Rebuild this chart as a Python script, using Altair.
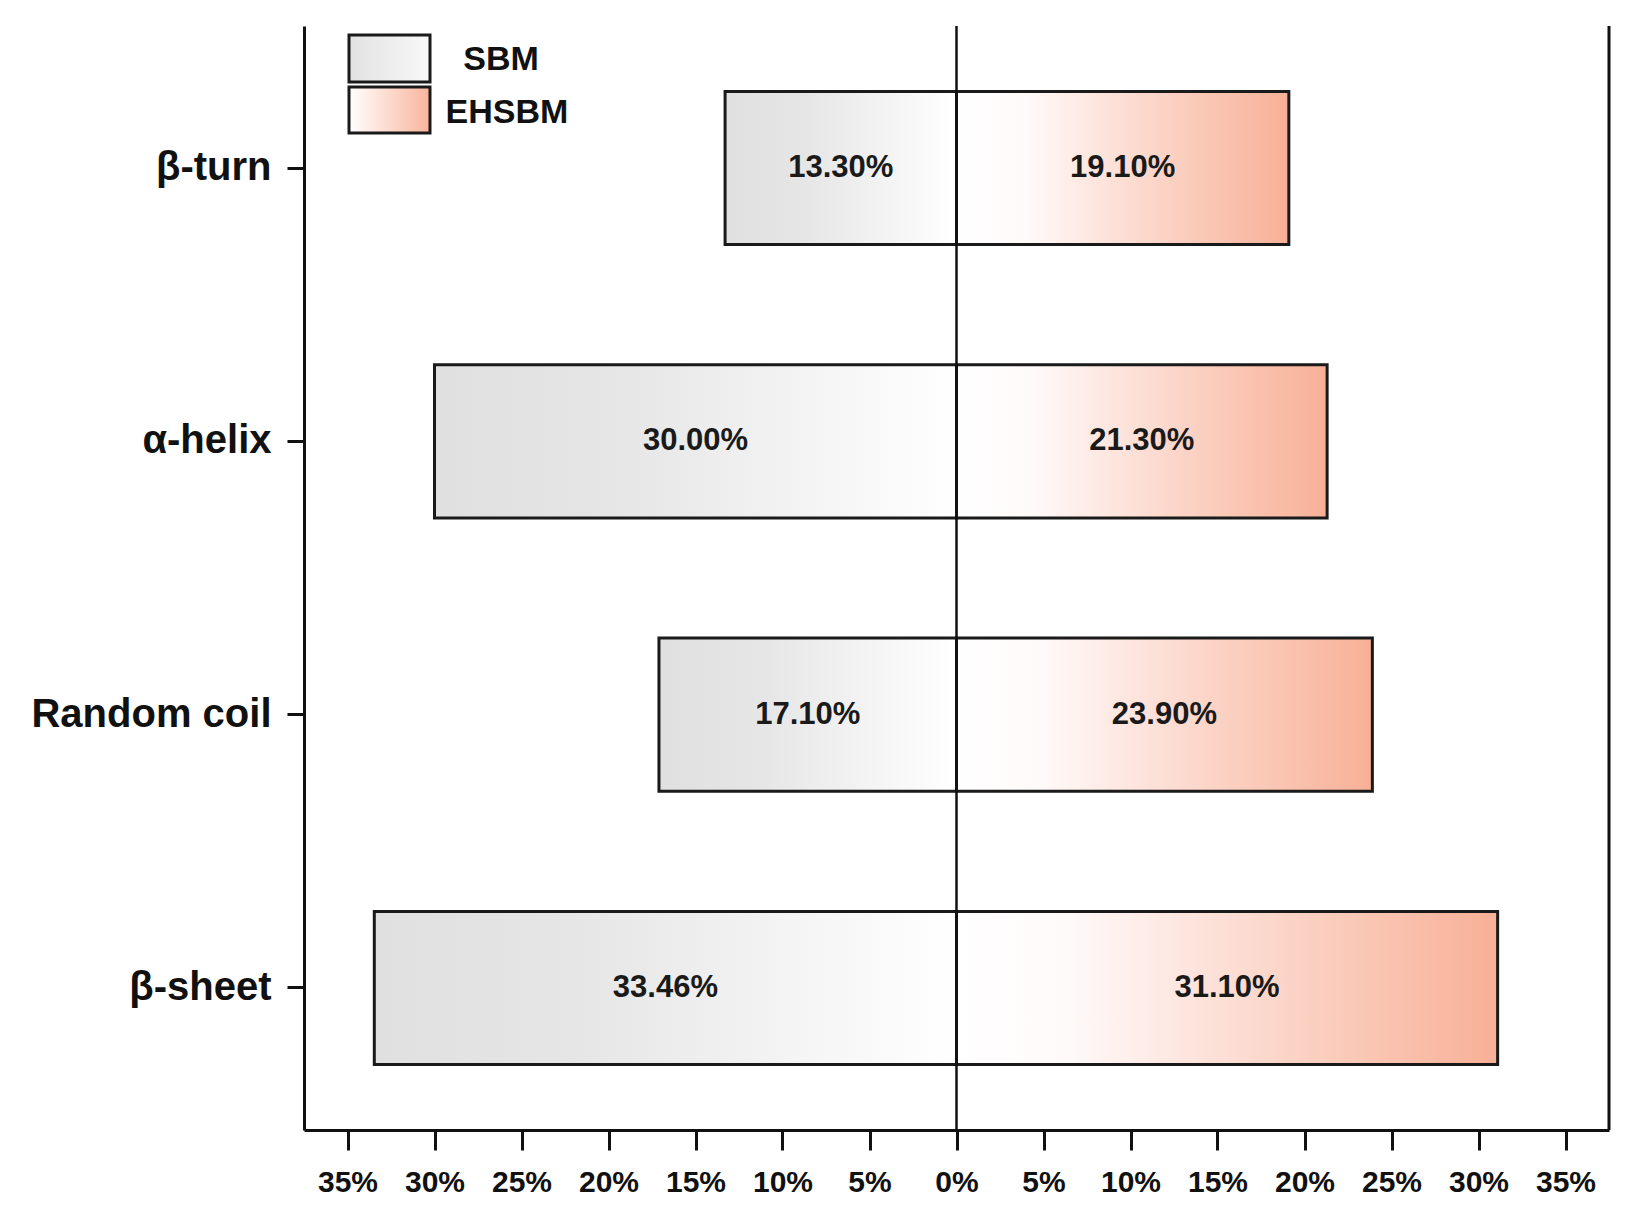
import altair as alt
import pandas as pd

categories = ["β-turn", "α-helix", "Random coil", "β-sheet"]
sbm_values = [13.30, 30.00, 17.10, 33.46]
ehsbm_values = [19.10, 21.30, 23.90, 31.10]
tick_values = [-35, -30, -25, -20, -15, -10, -5, 0, 5, 10, 15, 20, 25, 30, 35]

FONT = "Liberation Sans"
W, H = 1305, 1104

sbm = pd.DataFrame({
    "cat": categories,
    "lo": [-v for v in sbm_values],
    "hi": [0.0] * len(categories),
    "mid": [-v / 2 for v in sbm_values],
    "label": [f"{v:.2f}%" for v in sbm_values],
})
ehs = pd.DataFrame({
    "cat": categories,
    "lo": [0.0] * len(categories),
    "hi": ehsbm_values,
    "mid": [v / 2 for v in ehsbm_values],
    "label": [f"{v:.2f}%" for v in ehsbm_values],
})

gray_grad = {
    "gradient": "linear", "x1": 0, "x2": 1, "y1": 0, "y2": 0,
    "stops": [
        {"offset": 0, "color": "#e0e0e0"},
        {"offset": 0.35, "color": "#e6e6e6"},
        {"offset": 1, "color": "#ffffff"},
    ],
}
red_grad = {
    "gradient": "linear", "x1": 0, "x2": 1, "y1": 0, "y2": 0,
    "stops": [
        {"offset": 0, "color": "#ffffff"},
        {"offset": 0.2, "color": "#fffafa"},
        {"offset": 1, "color": "#f8b096"},
    ],
}

yscale = alt.Scale(paddingInner=0.44, paddingOuter=0.24)
xscale = alt.Scale(domain=[-37.5, 37.5], nice=False, zero=False)

bars_sbm = alt.Chart(sbm).mark_bar(fill=gray_grad, stroke="#1a1a1a", strokeWidth=3).encode(
    y=alt.Y("cat:N", sort=categories, scale=yscale,
            axis=alt.Axis(title=None, labelFontSize=40, labelFont=FONT, labelFontWeight="bold",
                          labelColor="#111111", tickSize=17, tickWidth=3, tickColor="#111111",
                          domainColor="#111111", domainWidth=3, labelPadding=16, grid=False,
                          labelLimit=0)),
    x=alt.X("lo:Q", scale=xscale,
            axis=alt.Axis(title=None, values=tick_values, labelExpr="abs(datum.value) + '%'",
                          labelFontSize=30, labelFont=FONT, labelFontWeight="bold",
                          labelColor="#111111", tickSize=20, tickWidth=3, tickColor="#111111",
                          domainColor="#111111", domainWidth=3, labelPadding=17, grid=False,
                          labelFlush=False, labelOverlap=False)),
    x2="hi:Q",
)

bars_ehs = alt.Chart(ehs).mark_bar(fill=red_grad, stroke="#1a1a1a", strokeWidth=3).encode(
    y=alt.Y("cat:N", sort=categories, title=None),
    x=alt.X("lo:Q", title=None),
    x2="hi:Q",
)

text_style = dict(font=FONT, fontSize=31, fontWeight="bold", color="#1a1a1a",
                  align="center", baseline="middle")
txt_sbm = alt.Chart(sbm).mark_text(**text_style).encode(
    y=alt.Y("cat:N", sort=categories, title=None),
    x=alt.X("mid:Q", title=None),
    text="label:N",
)
txt_ehs = alt.Chart(ehs).mark_text(**text_style).encode(
    y=alt.Y("cat:N", sort=categories, title=None),
    x=alt.X("mid:Q", title=None),
    text="label:N",
)

one = alt.Data(values=[{"k": 1}])
center_rule = alt.Chart(one).mark_rule(color="#111111", strokeWidth=2.5).encode(
    x=alt.datum(0), y=alt.value(0), y2=alt.value(H)
)
right_rule = alt.Chart(one).mark_rule(color="#111111", strokeWidth=3).encode(
    x=alt.value(W), y=alt.value(0), y2=alt.value(H)
)

leg_gray = alt.Chart(one).mark_rect(fill={
    "gradient": "linear", "x1": 0, "x2": 1, "y1": 0, "y2": 0,
    "stops": [{"offset": 0, "color": "#e2e2e2"}, {"offset": 1, "color": "#f8f8f8"}]},
    stroke="#1a1a1a", strokeWidth=3).encode(
    x=alt.value(45), x2=alt.value(126), y=alt.value(9), y2=alt.value(56)
)
leg_red = alt.Chart(one).mark_rect(fill={
    "gradient": "linear", "x1": 0, "x2": 1, "y1": 0, "y2": 0,
    "stops": [{"offset": 0, "color": "#ffffff"}, {"offset": 1, "color": "#f9b49c"}]},
    stroke="#1a1a1a", strokeWidth=3).encode(
    x=alt.value(45), x2=alt.value(126), y=alt.value(61), y2=alt.value(107)
)
leg_style = dict(font=FONT, fontSize=34, fontWeight="bold", color="#111111",
                 align="center", baseline="middle")
leg_t1 = alt.Chart(one).mark_text(**leg_style, text="SBM").encode(
    x=alt.value(197), y=alt.value(34)
)
leg_t2 = alt.Chart(one).mark_text(**leg_style, text="EHSBM").encode(
    x=alt.value(203), y=alt.value(87)
)

chart = alt.layer(
    bars_sbm, bars_ehs, center_rule, right_rule, txt_sbm, txt_ehs,
    leg_gray, leg_red, leg_t1, leg_t2,
).properties(
    width=W, height=H,
    autosize=alt.AutoSizeParams(type="none"),
    padding={"left": 296, "top": 18, "right": 15, "bottom": 93},
    background="white",
).configure_view(stroke=None)

chart.save("out.html", embed_options={"renderer": "svg", "actions": False})
